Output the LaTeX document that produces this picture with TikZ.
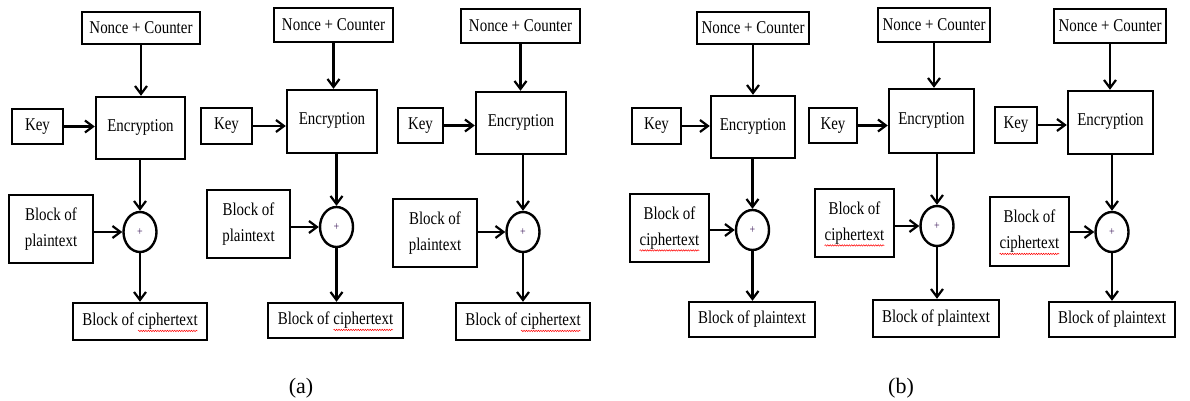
\documentclass[tikz,border=0pt]{standalone}
\usepackage{fontspec}
\setmainfont{Liberation Serif}[FakeStretch=0.83]
\newfontfamily\capfont{Liberation Serif}
\usetikzlibrary{arrows.meta,shapes.geometric,decorations.pathmorphing}
\definecolor{plusc}{RGB}{60,25,90}
\newcommand\redsquig[1]{\tikz[baseline=(sqw.base)]{\node[inner sep=0pt,outer sep=0pt,minimum width=0pt,minimum height=0pt,draw=none,shape=rectangle] (sqw) {#1};
  \draw[overlay, red, line width=0.5pt, decorate, decoration={snake,amplitude=0.7pt,segment length=2.4pt}]
    ([yshift=-5pt]sqw.base west) -- ([yshift=-5pt]sqw.base east);}}
\tikzset{
  box/.style={draw, line width=2.4pt, inner sep=0pt, align=center, font=\fontsize{18}{26}\selectfont},
  xorc/.style={draw, ellipse, line width=2.4pt, minimum width=33pt, minimum height=40pt, inner sep=0pt, font=\fontsize{12}{14}\selectfont, text=plusc},
  arr/.style={line width=2.2pt, -{Straight Barb[length=8pt,width=12pt]}},
  capt/.style={font=\capfont\fontsize{22}{26}\selectfont}
}
\begin{document}
\begin{tikzpicture}[x=1pt,y=-1pt]
\useasboundingbox (0,0) rectangle (1190,401);
% ---------- Panel 1 ----------
\node[box, minimum width=118pt, minimum height=32pt] (n1) at (141,28) {Nonce + Counter};
\node[box, minimum width=89pt, minimum height=62pt] (e1) at (140.5,128) {\raisebox{5pt}{Encryption}};
\node[box, minimum width=51pt, minimum height=35pt] (k1) at (37.5,126.5) {Key};
\node[box, minimum width=84pt, minimum height=68pt] (b1) at (51,229) {Block of\\plaintext};
\node[xorc] (x1) at (140,232) {+};
\node[box, minimum width=134pt, minimum height=37pt] (o1) at (140,321.5) {Block of \redsquig{ciphertext}};
% ---------- Panel 2 ----------
\node[box, minimum width=119pt, minimum height=34pt] (n2) at (333.5,25) {Nonce + Counter};
\node[box, minimum width=90pt, minimum height=63pt] (e2) at (332,121.5) {\raisebox{5pt}{Encryption}};
\node[box, minimum width=51pt, minimum height=36pt] (k2) at (226.5,126) {Key};
\node[box, minimum width=83pt, minimum height=68pt] (b2) at (248.5,224) {Block of\\plaintext};
\node[xorc] (x2) at (336.5,227) {+};
\node[box, minimum width=135pt, minimum height=35pt] (o2) at (335.5,320.5) {Block of \redsquig{ciphertext}};
% ---------- Panel 3 ----------
\node[box, minimum width=119pt, minimum height=34pt] (n3) at (520.5,26) {Nonce + Counter};
\node[box, minimum width=90pt, minimum height=62pt] (e3) at (521,123) {\raisebox{5pt}{Encryption}};
\node[box, minimum width=45pt, minimum height=35pt] (k3) at (420.5,125.5) {Key};
\node[box, minimum width=84pt, minimum height=68pt] (b3) at (435,233) {Block of\\plaintext};
\node[xorc] (x3) at (523,232) {+};
\node[box, minimum width=134pt, minimum height=37pt] (o3) at (523,321.5) {Block of \redsquig{ciphertext}};
% ---------- Panel 4 ----------
\node[box, minimum width=112pt, minimum height=32pt] (n4) at (753,28) {Nonce + Counter};
\node[box, minimum width=84pt, minimum height=62pt] (e4) at (753,127) {\raisebox{5pt}{Encryption}};
\node[box, minimum width=49pt, minimum height=36pt] (k4) at (656.5,126) {Key};
\node[box, minimum width=79pt, minimum height=68pt] (b4) at (669.5,228) {Block of\\\redsquig{ciphertext}};
\node[xorc] (x4) at (752.5,230) {+};
\node[box, minimum width=126pt, minimum height=35pt] (o4) at (752,319.5) {Block of plaintext};
% ---------- Panel 5 ----------
\node[box, minimum width=112pt, minimum height=34pt] (n5) at (934,25) {Nonce + Counter};
\node[box, minimum width=85pt, minimum height=64pt] (e5) at (931.5,121) {\raisebox{5pt}{Encryption}};
\node[box, minimum width=48pt, minimum height=35pt] (k5) at (833,125.5) {Key};
\node[box, minimum width=79pt, minimum height=68pt] (b5) at (854.5,223) {Block of\\\redsquig{ciphertext}};
\node[xorc] (x5) at (937,226) {+};
\node[box, minimum width=126pt, minimum height=37pt] (o5) at (936,318.5) {Block of plaintext};
% ---------- Panel 6 ----------
\node[box, minimum width=112pt, minimum height=34pt] (n6) at (1110,26) {Nonce + Counter};
\node[box, minimum width=85pt, minimum height=63pt] (e6) at (1110.5,122.5) {\raisebox{5pt}{Encryption}};
\node[box, minimum width=42pt, minimum height=36pt] (k6) at (1016,125) {Key};
\node[box, minimum width=79pt, minimum height=69pt] (b6) at (1029.5,231.5) {Block of\\\redsquig{ciphertext}};
\node[xorc] (x6) at (1112,232) {+};
\node[box, minimum width=126pt, minimum height=35pt] (o6) at (1112,319.5) {Block of plaintext};
% ---------- connectors ----------
\foreach \i in {1,...,6}{
  \draw[arr] (n\i.south) -- (n\i.south |- e\i.north);
  \draw[arr] (k\i.east) -- (k\i.east -| e\i.west);
  \draw[arr] (x\i |- e\i.south) -- (x\i.north);
  \draw[arr] (b\i.east |- x\i) -- (x\i.west);
  \draw[arr] (x\i.south) -- (x\i |- o\i.north);
}
% ---------- captions ----------
\node[capt] (capa) at (301,388) {(a)};
\node[capt] (capb) at (901,388) {(b)};
\end{tikzpicture}
\end{document}
